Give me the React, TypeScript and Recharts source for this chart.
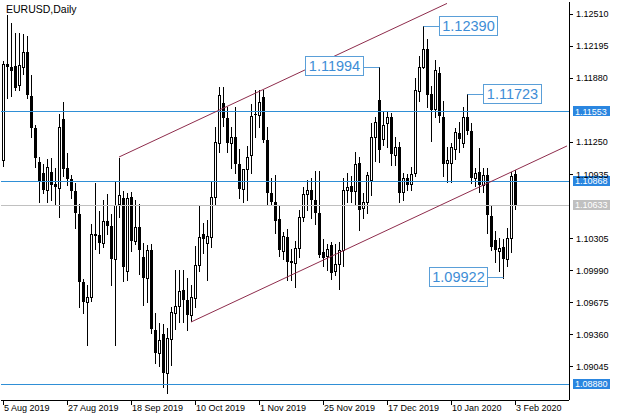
import React from 'react';
import { ComposedChart, Bar, XAxis, YAxis, ReferenceLine, ReferenceDot } from 'recharts';

const FONT = '"Liberation Sans", Arial, sans-serif';

const tickIndex = [0, 16, 32, 48, 64, 80, 96, 112, 128];
const tickLabels = ['5 Aug 2019', '27 Aug 2019', '18 Sep 2019', '10 Oct 2019', '1 Nov 2019', '25 Nov 2019', '17 Dec 2019', '10 Jan 2020', '3 Feb 2020'];

const opens = [
  1.1108, 1.1202, 1.1199, 1.1200, 1.1181, 1.1199, 1.1214, 1.1170, 1.1139, 1.1106,
  1.1095, 1.1078, 1.1096, 1.1084, 1.1080, 1.1148, 1.1100, 1.1089, 1.1077, 1.1055,
  1.0988, 1.0968, 1.0973, 1.1035, 1.1034, 1.1026, 1.1048, 1.1043, 1.1010, 1.1064,
  1.1070, 1.0999, 1.1071, 1.1028, 1.1042, 1.1012, 1.0992, 1.1019, 1.0941, 1.0918,
  1.0937, 1.0898, 1.0932, 1.0957, 1.0964, 1.0980, 1.0970, 1.0955, 1.0972, 1.1004,
  1.1035, 1.1026, 1.1032, 1.1071, 1.1124, 1.1164, 1.1149, 1.1124, 1.1130, 1.1104,
  1.1079, 1.1099, 1.1112, 1.1153, 1.1152, 1.1169, 1.1127, 1.1075, 1.1066, 1.1050,
  1.1018, 1.1032, 1.1008, 1.1006, 1.1021, 1.1052, 1.1074, 1.1078, 1.1068, 1.1056,
  1.1017, 1.1013, 1.1024, 1.0999, 1.1005, 1.1019, 1.1078, 1.1082, 1.1077, 1.1105,
  1.1060, 1.1066, 1.1088, 1.1130, 1.1167, 1.1128, 1.1144, 1.1150, 1.1112, 1.1120,
  1.1076, 1.1090, 1.1084, 1.1095, 1.1175, 1.1199, 1.1217, 1.1172, 1.1158, 1.1193,
  1.1150, 1.1105, 1.1105, 1.1118, 1.1134, 1.1124, 1.1150, 1.1136, 1.1090, 1.1096,
  1.1083, 1.1093, 1.1053, 1.1029, 1.1018, 1.1022, 1.1010, 1.1031, 1.1094,
];
const highs = [
  1.1205, 1.1250, 1.1242, 1.1232, 1.1232, 1.1231, 1.1229, 1.1191, 1.1142, 1.1111,
  1.1104, 1.1109, 1.1110, 1.1100, 1.1153, 1.1165, 1.1114, 1.1093, 1.1085, 1.1064,
  1.0991, 1.0985, 1.1045, 1.1085, 1.1057, 1.1068, 1.1074, 1.1055, 1.1087, 1.1110,
  1.1077, 1.1075, 1.1076, 1.1068, 1.1064, 1.1026, 1.1024, 1.1025, 1.0957, 1.0947,
  1.0946, 1.0943, 1.0963, 1.1000, 1.1000, 1.1000, 1.0992, 1.0985, 1.1023, 1.1062,
  1.1046, 1.1049, 1.1086, 1.1140, 1.1179, 1.1179, 1.1160, 1.1140, 1.1160, 1.1118,
  1.1095, 1.1121, 1.1163, 1.1176, 1.1176, 1.1176, 1.1140, 1.1090, 1.1093, 1.1063,
  1.1037, 1.1040, 1.1020, 1.1028, 1.1058, 1.1081, 1.1088, 1.1090, 1.1097, 1.1097,
  1.1030, 1.1025, 1.1027, 1.1025, 1.1027, 1.1090, 1.1095, 1.1092, 1.1115, 1.1111,
  1.1075, 1.1096, 1.1144, 1.1150, 1.1199, 1.1155, 1.1155, 1.1154, 1.1130, 1.1125,
  1.1095, 1.1094, 1.1101, 1.1188, 1.1210, 1.1239, 1.1226, 1.1180, 1.1206, 1.1199,
  1.1166, 1.1120, 1.1124, 1.1139, 1.1145, 1.1160, 1.1172, 1.1144, 1.1100, 1.1119,
  1.1100, 1.1100, 1.1063, 1.1038, 1.1031, 1.1030, 1.1041, 1.1096, 1.1098,
];
const lows = [
  1.1102, 1.1168, 1.1170, 1.1176, 1.1176, 1.1192, 1.1168, 1.1130, 1.1101, 1.1066,
  1.1075, 1.1066, 1.1068, 1.1064, 1.1052, 1.1092, 1.1083, 1.1070, 1.1041, 1.0963,
  1.0957, 1.0926, 1.0969, 1.1020, 1.1016, 1.1022, 1.1035, 1.0985, 1.0926, 1.1052,
  1.0989, 1.0990, 1.1018, 1.1025, 1.0996, 1.0965, 1.0968, 1.0938, 1.0908, 1.0905,
  1.0885, 1.0879, 1.0906, 1.0942, 1.0948, 1.0948, 1.0941, 1.0949, 1.0963, 1.0999,
  1.1016, 1.0990, 1.1022, 1.1063, 1.1115, 1.1141, 1.1115, 1.1100, 1.1095, 1.1070,
  1.1066, 1.1068, 1.1095, 1.1130, 1.1140, 1.1125, 1.1064, 1.1063, 1.1036, 1.1013,
  1.1010, 1.0990, 1.0990, 1.0983, 1.1012, 1.1048, 1.1058, 1.1051, 1.1045, 1.1012,
  1.1003, 1.1000, 1.0991, 1.0995, 1.0981, 1.1003, 1.1066, 1.1066, 1.1063, 1.1039,
  1.1051, 1.1056, 1.1073, 1.1107, 1.1106, 1.1122, 1.1120, 1.1103, 1.1103, 1.1066,
  1.1068, 1.1078, 1.1078, 1.1092, 1.1166, 1.1198, 1.1160, 1.1126, 1.1150, 1.1145,
  1.1092, 1.1086, 1.1086, 1.1109, 1.1115, 1.1120, 1.1133, 1.1085, 1.1082, 1.1076,
  1.1076, 1.1036, 1.1019, 1.1007, 1.0999, 1.0992, 1.1003, 1.1017, 1.1059,
];
const closes = [
  1.1202, 1.1199, 1.1195, 1.1178, 1.1201, 1.1214, 1.1171, 1.1139, 1.1110, 1.1086,
  1.1078, 1.1101, 1.1083, 1.1081, 1.1140, 1.1099, 1.1089, 1.1077, 1.1056, 1.0988,
  1.0968, 1.0973, 1.1035, 1.1033, 1.1026, 1.1048, 1.1043, 1.1010, 1.1063, 1.1073,
  1.1002, 1.1070, 1.1028, 1.1042, 1.1019, 1.0992, 1.1019, 1.0942, 1.0918, 1.0931,
  1.0898, 1.0933, 1.0958, 1.0964, 1.0979, 1.0970, 1.0955, 1.0973, 1.1004, 1.1032,
  1.1030, 1.1033, 1.1071, 1.1125, 1.1171, 1.1149, 1.1124, 1.1130, 1.1104, 1.1079,
  1.1099, 1.1111, 1.1151, 1.1152, 1.1165, 1.1127, 1.1075, 1.1066, 1.1048, 1.1019,
  1.1033, 1.1007, 1.1006, 1.1021, 1.1052, 1.1074, 1.1078, 1.1068, 1.1056, 1.1014,
  1.1011, 1.1020, 1.0997, 1.1005, 1.1019, 1.1078, 1.1081, 1.1076, 1.1104, 1.1058,
  1.1066, 1.1093, 1.1130, 1.1145, 1.1117, 1.1142, 1.1150, 1.1113, 1.1120, 1.1075,
  1.1090, 1.1083, 1.1094, 1.1176, 1.1199, 1.1217, 1.1171, 1.1157, 1.1196, 1.1151,
  1.1104, 1.1108, 1.1120, 1.1135, 1.1128, 1.1150, 1.1136, 1.1090, 1.1095, 1.1083,
  1.1093, 1.1054, 1.1022, 1.1019, 1.1021, 1.1010, 1.1031, 1.1092, 1.10633,
];

const TOTAL_SLOTS = 142;
const yDomain = [1.08718, 1.12628];
const yTicks = [1.1251, 1.12195, 1.1188, 1.1125, 1.10935, 1.10305, 1.0999, 1.09675, 1.0936, 1.09045];

const levelPrices = [1.11553, 1.10868, 1.10633, 1.0888];
const levelColors = ['#2f8fd6', '#2f8fd6', '#c0c0c0', '#2f8fd6'];
const levelTagColors = ['#2a86e0', '#2a86e0', '#c0c0c0', '#2a86e0'];

const channelUpper = [{ x: 29, y: 1.11105 }, { x: 111, y: 1.12614 }];
const channelLower = [{ x: 47, y: 1.09484 }, { x: 141, y: 1.11214 }];

const markIndex = [105, 94, 116, 125];
const markPrice = [1.1239, 1.11994, 1.11723, 1.09922];
const markText = ['1.12390', '1.11994', '1.11723', '1.09922'];
const markSide = ['right', 'left', 'right', 'left'];

const rows = Array.from({ length: TOTAL_SLOTS }, (_, i) =>
  i < opens.length
    ? { i, o: opens[i], h: highs[i], l: lows[i], c: closes[i], range: [lows[i], highs[i]] }
    : { i, range: null }
);

const Candle = (props: any) => {
  const { x, y, width, height, payload } = props;
  if (!payload || payload.o == null || x == null || y == null) return null;
  const top = Math.min(y, y + height);
  const bot = Math.max(y, y + height);
  const span = payload.h - payload.l;
  const py = (p: number) => (span > 0 ? top + ((payload.h - p) / span) * (bot - top) : top);
  const c = Math.floor(x + width / 2);
  const yo = py(payload.o);
  const yc = py(payload.c);
  const up = payload.c >= payload.o;
  const bTop = Math.round(Math.min(yo, yc));
  const bBot = Math.round(Math.max(yo, yc));
  return (
    <g>
      <line x1={c + 0.5} x2={c + 0.5} y1={Math.round(top)} y2={Math.round(bot) + 1} stroke="#000" strokeWidth={1} />
      {up ? (
        <rect x={c - 0.5} y={bTop + 0.5} width={2} height={Math.max(bBot - bTop, 1)} fill="#fff" stroke="#000" strokeWidth={1} />
      ) : (
        <rect x={c - 1} y={bTop} width={3} height={Math.max(bBot - bTop, 1)} fill="#000" />
      )}
    </g>
  );
};

const XTick = (props: any) => {
  const { x, y, payload } = props;
  const k = tickIndex.indexOf(payload.value);
  return (
    <text x={Math.floor(x) + 1} y={y} dy="0.71em" fontSize={9} fontFamily={FONT} fill="#000" textAnchor="start">
      {k >= 0 ? tickLabels[k] : ''}
    </text>
  );
};

const LevelLine = (props: any) => {
  const { x1, x2, y1, stroke } = props;
  if (x1 == null || y1 == null) return null;
  const yy = Math.round(y1) + 0.5;
  return <line x1={x1} x2={x2} y1={yy} y2={yy} stroke={stroke} strokeWidth={1} />;
};

const AxisTag = (props: any) => {
  const { viewBox, text, bg } = props;
  if (!viewBox) return null;
  const bx = viewBox.x + viewBox.width + 4;
  const cy = viewBox.y;
  return (
    <g>
      <rect x={bx} y={Math.round(cy) - 5} width={37} height={10} fill={bg} />
      <text x={bx + 2} y={cy} dy="0.36em" fontSize={9} fontFamily={FONT} fill="#fff">
        {text}
      </text>
    </g>
  );
};

const PriceTag = (props: any) => {
  const { cx, cy, text, side } = props;
  if (cx == null || cy == null) return null;
  const gap = 16;
  const w = 58;
  const h = 20;
  const px = Math.floor(cx) + 0.5;
  const bx = side === 'right' ? px + gap : px - gap - w;
  const ly = Math.round(cy) + 0.5;
  return (
    <g>
      <line x1={px} x2={side === 'right' ? bx : bx + w} y1={ly} y2={ly} stroke="#5a9fd8" strokeWidth={1} />
      <rect x={bx} y={Math.round(cy - 10.5) + 0.5} width={w} height={h - 1} fill="#fff" stroke="#5a9fd8" strokeWidth={1} />
      <text x={bx + w / 2} y={Math.round(cy - 10.5) + h / 2} dy="0.36em" textAnchor="middle" fontSize={14.5} fontFamily={FONT} fill="#3d8dd6">
        {text}
      </text>
    </g>
  );
};

export default function App() {
  return (
    <div style={{ position: 'absolute', left: 0, top: 0, width: 623, height: 420, background: '#fff' }}>
      <ComposedChart width={623} height={420} data={rows} margin={{ top: 2, right: 0, left: 1, bottom: 0 }}>
        <XAxis
          dataKey="i"
          type="category"
          ticks={tickIndex}
          interval={0}
          height={20}
          tickSize={5}
          tickMargin={0}
          tick={<XTick />}
          tickLine={{ stroke: '#000', shapeRendering: 'crispEdges' }}
          axisLine={{ stroke: '#000', shapeRendering: 'crispEdges' }}
        />
        <XAxis
          xAxisId="top"
          dataKey="i"
          type="category"
          orientation="top"
          height={0}
          tick={false}
          tickLine={false}
          axisLine={{ stroke: '#000', shapeRendering: 'crispEdges' }}
        />
        <YAxis
          orientation="right"
          width={54}
          domain={yDomain}
          allowDataOverflow
          ticks={yTicks}
          interval={0}
          tickSize={4}
          tickMargin={3}
          tickFormatter={(v: number) => v.toFixed(5)}
          tick={{ fontSize: 9, fill: '#000', fontFamily: FONT }}
          tickLine={{ stroke: '#000', shapeRendering: 'crispEdges' }}
          axisLine={{ stroke: '#000', shapeRendering: 'crispEdges' }}
        />
        <YAxis
          yAxisId="left"
          orientation="left"
          width={0}
          domain={yDomain}
          allowDataOverflow
          tick={false}
          tickLine={false}
          axisLine={{ stroke: '#000', shapeRendering: 'crispEdges' }}
        />
        <Bar dataKey="range" barSize={3} isAnimationActive={false} shape={<Candle />} />
        {levelPrices.map((p, k) => (
          <ReferenceLine
            key={'lv' + k}
            y={p}
            stroke={levelColors[k]}
            strokeWidth={1}
            shape={(sp: any) => <LevelLine {...sp} stroke={levelColors[k]} />}
            label={<AxisTag text={p.toFixed(5)} bg={levelTagColors[k]} />}
          />
        ))}
        <ReferenceLine segment={channelUpper} stroke="#8e2c4c" strokeWidth={1} />
        <ReferenceLine segment={channelLower} stroke="#8e2c4c" strokeWidth={1} />
        {markIndex.map((mi, k) => (
          <ReferenceDot
            key={'mk' + k}
            x={mi}
            y={markPrice[k]}
            r={0}
            shape={(p: any) => <PriceTag {...p} text={markText[k]} side={markSide[k]} />}
          />
        ))}
      </ComposedChart>
      <svg width={623} height={20} style={{ position: 'absolute', left: 0, top: 0, pointerEvents: 'none' }}>
        <text x={6} y={13} fontSize={10.5} fontFamily={FONT} fill="#000">EURUSD,Daily</text>
      </svg>
    </div>
  );
}
